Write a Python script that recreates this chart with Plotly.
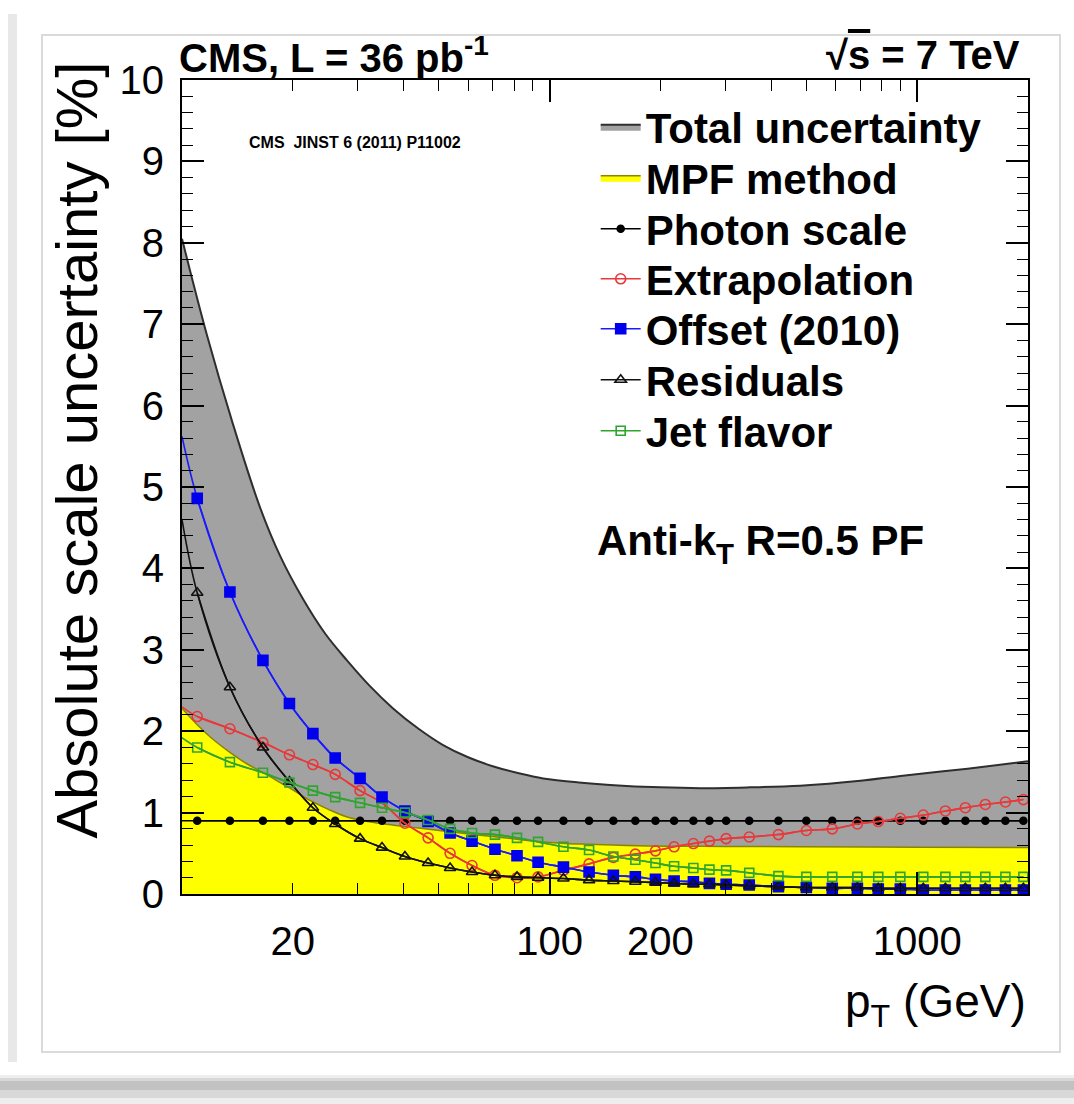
import math
import plotly.graph_objects as go

# ---------------- data ----------------
pt = [11, 13.5, 16.6, 19.6, 22.7, 26.1, 30.5, 35, 40.4, 46.7, 53.6, 61.5, 71, 81.5, 93,
      109, 128, 149, 171, 194, 218, 246, 272, 302, 349, 419, 499, 587, 687, 783, 899,
      1038, 1192, 1351, 1531, 1736, 1943]

photon = [0.9, 0.9, 0.9, 0.9, 0.9, 0.9, 0.9, 0.9, 0.9, 0.9, 0.9, 0.9, 0.9, 0.9, 0.9,
          0.9, 0.9, 0.9, 0.9, 0.9, 0.9, 0.9, 0.9, 0.9, 0.9, 0.9, 0.9, 0.9, 0.9, 0.9, 0.9,
          0.9, 0.9, 0.9, 0.9, 0.9, 0.9]
extrapolation = [2.18, 2.03, 1.86, 1.71, 1.59, 1.47, 1.27, 1.12, 0.87, 0.69, 0.50, 0.35, 0.23,
                 0.20, 0.21, 0.29, 0.37, 0.45, 0.49, 0.53, 0.58, 0.62, 0.65, 0.68, 0.70, 0.73,
                 0.78, 0.80, 0.86, 0.89, 0.93, 0.97, 1.02, 1.06, 1.10, 1.13, 1.16]
offset = [4.86, 3.71, 2.87, 2.34, 1.97, 1.67, 1.42, 1.19, 1.02, 0.89, 0.75, 0.65, 0.55, 0.47,
          0.39, 0.33, 0.27, 0.23, 0.21, 0.18, 0.16, 0.15, 0.13, 0.12, 0.11, 0.09, 0.08, 0.07,
          0.07, 0.06, 0.06, 0.05, 0.05, 0.05, 0.05, 0.05, 0.05]
residuals = [3.70, 2.54, 1.80, 1.38, 1.06, 0.86, 0.68, 0.57, 0.46, 0.38, 0.32, 0.27, 0.23, 0.21,
             0.20, 0.19, 0.17, 0.16, 0.15, 0.14, 0.13, 0.12, 0.12, 0.11, 0.10, 0.09, 0.08, 0.08,
             0.08, 0.07, 0.07, 0.07, 0.07, 0.07, 0.07, 0.07, 0.07]
jet_flavor = [1.80, 1.62, 1.49, 1.37, 1.27, 1.19, 1.12, 1.06, 1.00, 0.91, 0.80, 0.75, 0.73, 0.69,
              0.64, 0.58, 0.54, 0.46, 0.42, 0.38, 0.34, 0.32, 0.30, 0.29, 0.26, 0.22, 0.21, 0.21,
              0.21, 0.21, 0.21, 0.21, 0.21, 0.21, 0.21, 0.21, 0.21]

# curve values at the left edge of the plot (pT = 10 GeV)
edge_pt = 10
edge_values = {"photon": 0.9, "extrapolation": 2.30, "offset": 5.62,
               "residuals": 4.6, "jet_flavor": 1.92}

total_pt = [10, 11.7, 13.7, 16.3, 18.5, 21.3, 24.5, 28.1, 32.5, 37.5, 44, 51.3, 60, 70, 83, 96,
            120, 146, 200, 257, 350, 480, 700, 900, 1370, 2000]
total_unc = [8.05, 6.86, 5.8, 4.75, 4.15, 3.63, 3.2, 2.87, 2.55, 2.28, 2.03, 1.83, 1.68, 1.57,
             1.48, 1.42, 1.37, 1.34, 1.31, 1.30, 1.31, 1.33, 1.39, 1.45, 1.54, 1.63]

mpf_pt = [10, 11, 12, 13.5, 15, 16.5, 18, 20, 22.5, 25, 28, 32, 37, 44, 52, 62, 75, 90, 110,
          130, 190, 300, 480, 1000, 2000]
mpf_unc = [2.28, 2.08, 1.92, 1.74, 1.6, 1.5, 1.4, 1.28, 1.14, 1.04, 0.95, 0.89, 0.85, 0.81, 0.77,
           0.73, 0.69, 0.65, 0.62, 0.61, 0.59, 0.585, 0.58, 0.575, 0.57]

x_labels = [20, 100, 200, 1000]
x_major = [10, 100, 1000]
x_minor = [20, 30, 40, 50, 60, 70, 80, 90, 200, 300, 400, 500, 600, 700, 800, 900, 2000]
y_ticks = [0, 1, 2, 3, 4, 5, 6, 7, 8, 9, 10]

FONT = "Liberation Sans, Arial, Helvetica, sans-serif"


def px_x(p):
    return (p - 182) / 846.0


def px_y(p):
    return (894 - p) / 814.0


# legend entry centres (pixel rows) in the reference
legend_rows = [127, 178, 229, 279, 329, 380, 431]
legend_ids = ["legend", "legend2", "legend3", "legend4", "legend5", "legend6", "legend7"]

fig = go.Figure()

fig.add_trace(go.Scatter(
    x=total_pt, y=total_unc, mode="lines", fill="tozeroy", fillcolor="#a2a2a2",
    line=dict(color="#2e2e2e", width=2, shape="spline"),
    name="<b>Total uncertainty</b>", hoverinfo="skip", legend=legend_ids[0]))
fig.add_trace(go.Scatter(
    x=mpf_pt, y=mpf_unc, mode="lines", fill="tozeroy", fillcolor="#ffff00",
    line=dict(color="#8a8400", width=1.5, shape="spline"),
    name="<b>MPF method</b>", hoverinfo="skip", legend=legend_ids[1]))

series = [
    ("photon", "Photon scale", photon, "#000000", "circle", 7, "#000000"),
    ("extrapolation", "Extrapolation", extrapolation, "#e8383a", "circle-open", 10, "#e8383a"),
    ("offset", "Offset (2010)", offset, "#1a1aff", "square", 10, "#0000ee"),
    ("residuals", "Residuals", residuals, "#111111", "triangle-up-open", 10, "#111111"),
    ("jet_flavor", "Jet flavor", jet_flavor, "#2fa52f", "square-open", 9, "#2fa52f"),
]

for i, (key, label, vals, lcol, sym, size, mcol) in enumerate(series):
    fig.add_trace(go.Scatter(
        x=[edge_pt] + pt, y=[edge_values[key]] + vals, mode="lines",
        line=dict(color=lcol, width=1.6, shape="spline"),
        showlegend=False, hoverinfo="skip"))
    fig.add_trace(go.Scatter(
        x=pt, y=vals, mode="lines+markers",
        line=dict(color=lcol, width=1.6, shape="spline"),
        marker=dict(symbol=sym, size=size, color=mcol, line=dict(color=mcol, width=1.6)),
        name="<b>" + label + "</b>", legend=legend_ids[i + 2]))

# carrier trace for the labelled overlay axis
fig.add_trace(go.Scatter(x=[100], y=[None], xaxis="x2", yaxis="y", showlegend=False,
                         hoverinfo="skip"))

xrange = [math.log10(10), math.log10(2000)]

layout_legends = {}
for lid, row in zip(legend_ids, legend_rows):
    layout_legends[lid] = dict(
        x=0.489, y=px_y(row), xanchor="left", yanchor="middle",
        font=dict(size=42, family=FONT, color="black"),
        bgcolor="rgba(0,0,0,0)", itemwidth=40, borderwidth=0)

fig.update_layout(
    width=1074, height=1104,
    margin=dict(l=182, r=46, t=80, b=210),
    paper_bgcolor="white", plot_bgcolor="white",
    font=dict(family=FONT, color="black"),
    showlegend=True,
    xaxis=dict(type="log", range=xrange, tickmode="array", tickvals=x_major,
               showticklabels=False, ticks="inside", ticklen=22, tickwidth=1.5,
               tickcolor="black", showline=True, linecolor="black", linewidth=2,
               mirror="ticks", showgrid=False, zeroline=False,
               minor=dict(tickmode="array", tickvals=x_minor, ticks="inside",
                          ticklen=11, tickwidth=1.2, tickcolor="black", showgrid=False)),
    xaxis2=dict(type="log", range=xrange, overlaying="x", anchor="y", side="bottom",
                tickmode="array", tickvals=x_labels, ticktext=[str(v) for v in x_labels],
                ticks="", showline=False, showgrid=False, zeroline=False,
                tickfont=dict(size=40, family=FONT, color="black"),
                ticklabelstandoff=20),
    yaxis=dict(range=[0, 10], tickmode="array", tickvals=y_ticks,
               ticks="inside", ticklen=22, tickwidth=1.5, tickcolor="black",
               showline=True, linecolor="black", linewidth=2, mirror="ticks",
               showgrid=False, zeroline=False,
               tickfont=dict(size=40, family=FONT, color="black"),
               ticklabelstandoff=8,
               minor=dict(dtick=0.2, ticks="inside", ticklen=11, tickwidth=1.2,
                          tickcolor="black", showgrid=False)),
    **layout_legends,
)

annotations = [
    dict(text="Absolute scale uncertainty [%]", x=-0.125, y=0.545, xref="paper", yref="paper",
         textangle=-90, showarrow=False, font=dict(size=58, family=FONT, color="black"),
         xanchor="center", yanchor="middle"),
    dict(text="p<sub>T</sub> (GeV)", x=1.0, y=-0.136, xref="paper", yref="paper",
         showarrow=False, font=dict(size=46, family=FONT, color="black"),
         xanchor="right", yanchor="middle"),
    dict(text="<b>CMS, L = 36 pb<sup>-1</sup></b>", x=-0.006, y=1.031, xref="paper",
         yref="paper", showarrow=False, font=dict(size=40, family=FONT, color="black"),
         xanchor="left", yanchor="middle"),
    dict(text="<b>\u221A<span style='text-decoration:overline'>s</span> = 7 TeV</b>",
         x=0.993, y=1.031, xref="paper", yref="paper",
         showarrow=False, font=dict(size=40, family=FONT, color="black"),
         xanchor="right", yanchor="middle"),
    dict(text="<b>CMS\u00a0 JINST 6 (2011) P11002</b>", x=0.0768, y=0.9238, xref="paper",
         yref="paper", showarrow=False, font=dict(size=16, family=FONT, color="black"),
         xanchor="left", yanchor="middle"),
    dict(text="<b>Anti-k<sub>T</sub> R=0.5 PF</b>", x=0.4885, y=0.431, xref="paper",
         yref="paper", showarrow=False, font=dict(size=42, family=FONT, color="black"),
         xanchor="left", yanchor="middle"),
]
fig.update_layout(annotations=annotations)

# decorative outer frame and shadows (paper coordinates)
shapes = [
    dict(type="rect", xref="paper", yref="paper", x0=px_x(42), x1=px_x(1060),
         y0=px_y(1052), y1=px_y(35), line=dict(color="#dadada", width=2), layer="below"),
    dict(type="rect", xref="paper", yref="paper", x0=px_x(8), x1=px_x(17),
         y0=px_y(1062), y1=px_y(14), line=dict(width=0), fillcolor="#e8e8e8", layer="below"),
    dict(type="rect", xref="paper", yref="paper", x0=px_x(0), x1=px_x(1074),
         y0=px_y(1104), y1=px_y(1075), line=dict(width=0), fillcolor="rgba(160,160,160,0.18)",
         layer="below"),
    dict(type="rect", xref="paper", yref="paper", x0=px_x(0), x1=px_x(1074),
         y0=px_y(1098), y1=px_y(1078), line=dict(width=0), fillcolor="rgba(140,140,140,0.22)",
         layer="below"),
    dict(type="rect", xref="paper", yref="paper", x0=px_x(0), x1=px_x(1074),
         y0=px_y(1090), y1=px_y(1081), line=dict(width=0), fillcolor="rgba(120,120,120,0.22)",
         layer="below"),
]
fig.update_layout(shapes=shapes)

fig.write_html("out.html")
